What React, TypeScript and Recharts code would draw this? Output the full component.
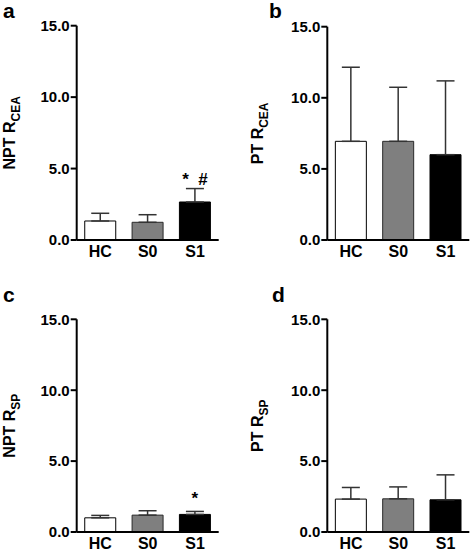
import * as React from "react";
import { BarChart, Bar, XAxis, YAxis, ErrorBar, Cell, LabelList } from "recharts";

const groups = ["HC", "S0", "S1"];
const yTicks = [0, 5, 10, 15];

// mean and upper SD per group
const nptCeaMean = [1.33, 1.24, 2.66];
const nptCeaSd = [0.54, 0.53, 0.94];
const ptCeaMean = [6.94, 6.94, 6.0];
const ptCeaSd = [5.21, 3.8, 5.19];
const nptSpMean = [1.0, 1.19, 1.24];
const nptSpSd = [0.17, 0.31, 0.21];
const ptSpMean = [2.32, 2.34, 2.27];
const ptSpSd = [0.82, 0.84, 1.76];

const sigCea = ["", "", "*  #"];
const sigSp = ["", "", "*"];
const noSig = ["", "", ""];

const fills = ["#ffffff", "#7f7f7f", "#000000"];
const strokes = ["#000000", "#2a2a2a", "#000000"];

const FONT = "'Liberation Sans', Arial, sans-serif";

function makeRows(mean: number[], sd: number[], sig: string[]) {
  return groups.map((g, i) => ({ group: g, mean: mean[i], err: [0, sd[i]], sig: sig[i] }));
}

// rotated y label with subscript
const YLabel = (props: any) => {
  const { viewBox, main, sub, gap } = props;
  const x = viewBox.x + viewBox.width - gap;
  const y = viewBox.y + viewBox.height / 2;
  return (
    <text
      x={x}
      y={y}
      transform={`rotate(-90, ${x}, ${y})`}
      textAnchor="middle"
      style={{ fontFamily: FONT, fontWeight: 700, fontSize: 16, fill: "#000" }}
    >
      <tspan>{main}</tspan>
      <tspan dy={5} style={{ fontSize: 12 }}>{sub}</tspan>
    </text>
  );
};

type PanelProps = {
  letter: string;
  left: number;
  top: number;
  rows: any[];
  main: string;
  sub: string;
  margin: { top: number; right: number; bottom: number; left: number };
  labelGap: number;
  sigLift: number;
  letterPos: [number, number];
};

function Panel(p: PanelProps) {
  return (
    <div style={{ position: "absolute", left: p.left, top: p.top, width: 236, height: 276 }}>
      <div
        style={{
          position: "absolute",
          left: p.letterPos[0],
          top: p.letterPos[1],
          fontFamily: FONT,
          fontWeight: "bold",
          fontSize: 21,
          lineHeight: "21px",
        }}
      >
        {p.letter}
      </div>
      <BarChart width={236} height={276} data={p.rows} margin={p.margin} barCategoryGap="17%">
        <XAxis
          dataKey="group"
          tickLine={false}
          tickSize={0}
          tickMargin={6}
          height={18}
          axisLine={{ stroke: "#000", strokeWidth: 2 }}
          tick={{ fill: "#000", fontFamily: FONT, fontWeight: "bold", fontSize: 16 }}
        />
        <YAxis
          width={60}
          domain={[0, 15]}
          ticks={yTicks}
          interval={0}
          tickFormatter={(v: number) => v.toFixed(1)}
          axisLine={{ stroke: "#000", strokeWidth: 2 }}
          tickLine={{ stroke: "#000", strokeWidth: 2 }}
          tickSize={6}
          tickMargin={1}
          tick={{ fill: "#000", fontFamily: FONT, fontWeight: "bold", fontSize: 15 }}
          label={<YLabel main={p.main} sub={p.sub} gap={p.labelGap} />}
        />
        <Bar dataKey="mean" isAnimationActive={false} strokeWidth={1}>
          {p.rows.map((_, i) => (
            <Cell key={i} fill={fills[i]} stroke={strokes[i]} />
          ))}
          <ErrorBar dataKey="err" direction="y" width={9} stroke="#333" strokeWidth={1.5} />
          <LabelList
            dataKey="sig"
            content={(lp: any) =>
              lp.value ? (
                <text
                  x={lp.x + lp.width / 2}
                  y={lp.y - p.sigLift}
                  textAnchor="middle"
                  style={{
                    fontFamily: FONT,
                    fontWeight: 700,
                    fontSize: 17,
                    fill: "#000",
                    whiteSpace: "pre",
                  }}
                >
                  {lp.value}
                </text>
              ) : null
            }
          />
        </Bar>
      </BarChart>
    </div>
  );
}

export default function App() {
  return (
    <div style={{ position: "absolute", left: 0, top: 0, width: 472, height: 552, background: "#fff" }}>
      <Panel
        letter="a"
        left={0}
        top={0}
        rows={makeRows(nptCeaMean, nptCeaSd, sigCea)}
        main="NPT R"
        sub="CEA"
        margin={{ top: 25.7, right: 17.3, bottom: 18, left: 16.7 }}
        labelGap={61.7}
        sigLift={17}
        letterPos={[3, 0]}
      />
      <Panel
        letter="b"
        left={236}
        top={0}
        rows={makeRows(ptCeaMean, ptCeaSd, noSig)}
        main="PT R"
        sub="CEA"
        margin={{ top: 26.7, right: 2.7, bottom: 18, left: 31.3 }}
        labelGap={64.6}
        sigLift={17}
        letterPos={[33, 0]}
      />
      <Panel
        letter="c"
        left={0}
        top={276}
        rows={makeRows(nptSpMean, nptSpSd, sigSp)}
        main="NPT R"
        sub="SP"
        margin={{ top: 43.3, right: 17.3, bottom: 2, left: 16.7 }}
        labelGap={61.7}
        sigLift={10}
        letterPos={[3, 8]}
      />
      <Panel
        letter="d"
        left={236}
        top={276}
        rows={makeRows(ptSpMean, ptSpSd, noSig)}
        main="PT R"
        sub="SP"
        margin={{ top: 43.3, right: 2.7, bottom: 2, left: 31.3 }}
        labelGap={64.6}
        sigLift={10}
        letterPos={[36, 8]}
      />
    </div>
  );
}
